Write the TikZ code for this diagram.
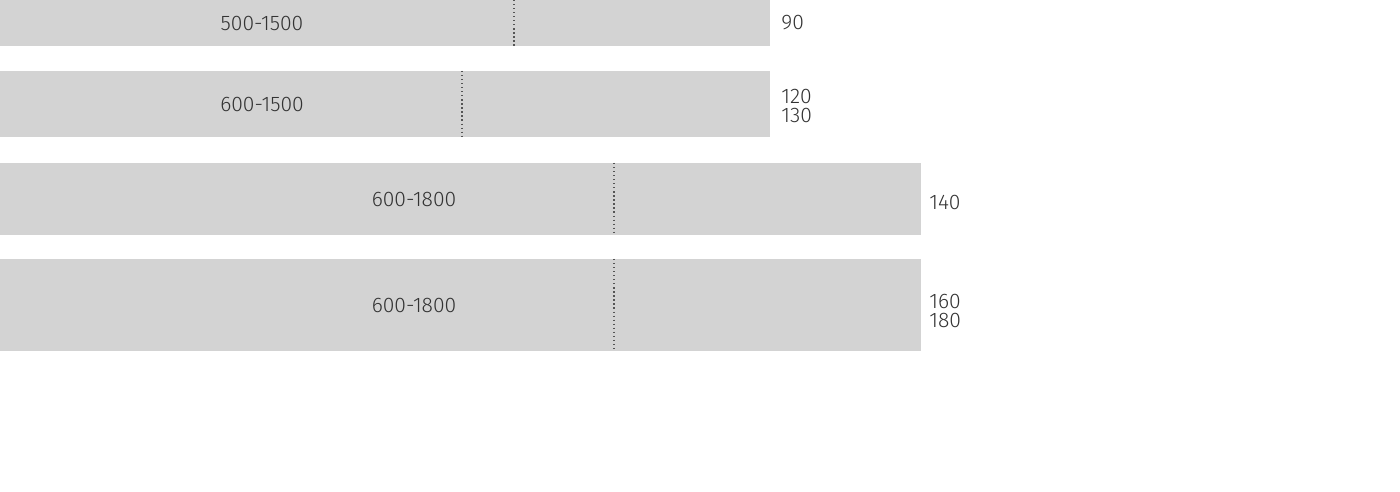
\documentclass[tikz,border=0pt]{standalone}
\usepackage{fontspec}
\setmainfont{Fira Sans}[UprightFont=* Light]
\definecolor{barfill}{HTML}{D3D3D3}
\definecolor{labeltext}{HTML}{333333}
\definecolor{divline}{HTML}{555555}
\tikzset{
  bar/.style={fill=barfill, draw=none},
  divider/.style={draw=divline, line width=0.7pt, dash pattern=on 0.7pt off 1.6pt},
  rangelabel/.style={text=labeltext, font=\fontsize{12}{12}\selectfont, inner sep=0pt},
  sizelabel/.style={text=labeltext, font=\fontsize{12}{10.5}\selectfont, inner sep=0pt, anchor=west, align=left}
}
\begin{document}
\begin{tikzpicture}[x=0.02cm, y=-0.02cm]
    \useasboundingbox (0,0) rectangle (1400,492);
    % bars
    \fill[bar] (0,0) rectangle (770,46);
    \fill[bar] (0,71) rectangle (770,137);
    \fill[bar] (0,163) rectangle (921,235);
    \fill[bar] (0,259) rectangle (921,351);
    % dotted dividers
    \coordinate (d1a) at (514,0);   \coordinate (d1b) at (514,46);
    \coordinate (d2a) at (462,71);  \coordinate (d2b) at (462,137);
    \coordinate (d3a) at (614,163); \coordinate (d3b) at (614,235);
    \coordinate (d4a) at (614,259); \coordinate (d4b) at (614,351);
    \draw[divider] (d1a) -- (d1b);
    \draw[divider] (d2a) -- (d2b);
    \draw[divider] (d3a) -- (d3b);
    \draw[divider] (d4a) -- (d4b);
    % range labels
    \node[rangelabel] (r1) at (262,23) {500-1500};
    \node[rangelabel] (r2) at (262,104) {600-1500};
    \node[rangelabel] (r3) at (414,199) {600-1800};
    \node[rangelabel] (r4) at (414,305) {600-1800};
    % size labels
    \node[sizelabel] (s1) at (781,23) {90};
    \node[sizelabel] (s2) at (781,106) {120\\130};
    \node[sizelabel] (s3) at (929,202) {140};
    \node[sizelabel] (s4) at (929,311) {160\\180};
\end{tikzpicture}
\end{document}
